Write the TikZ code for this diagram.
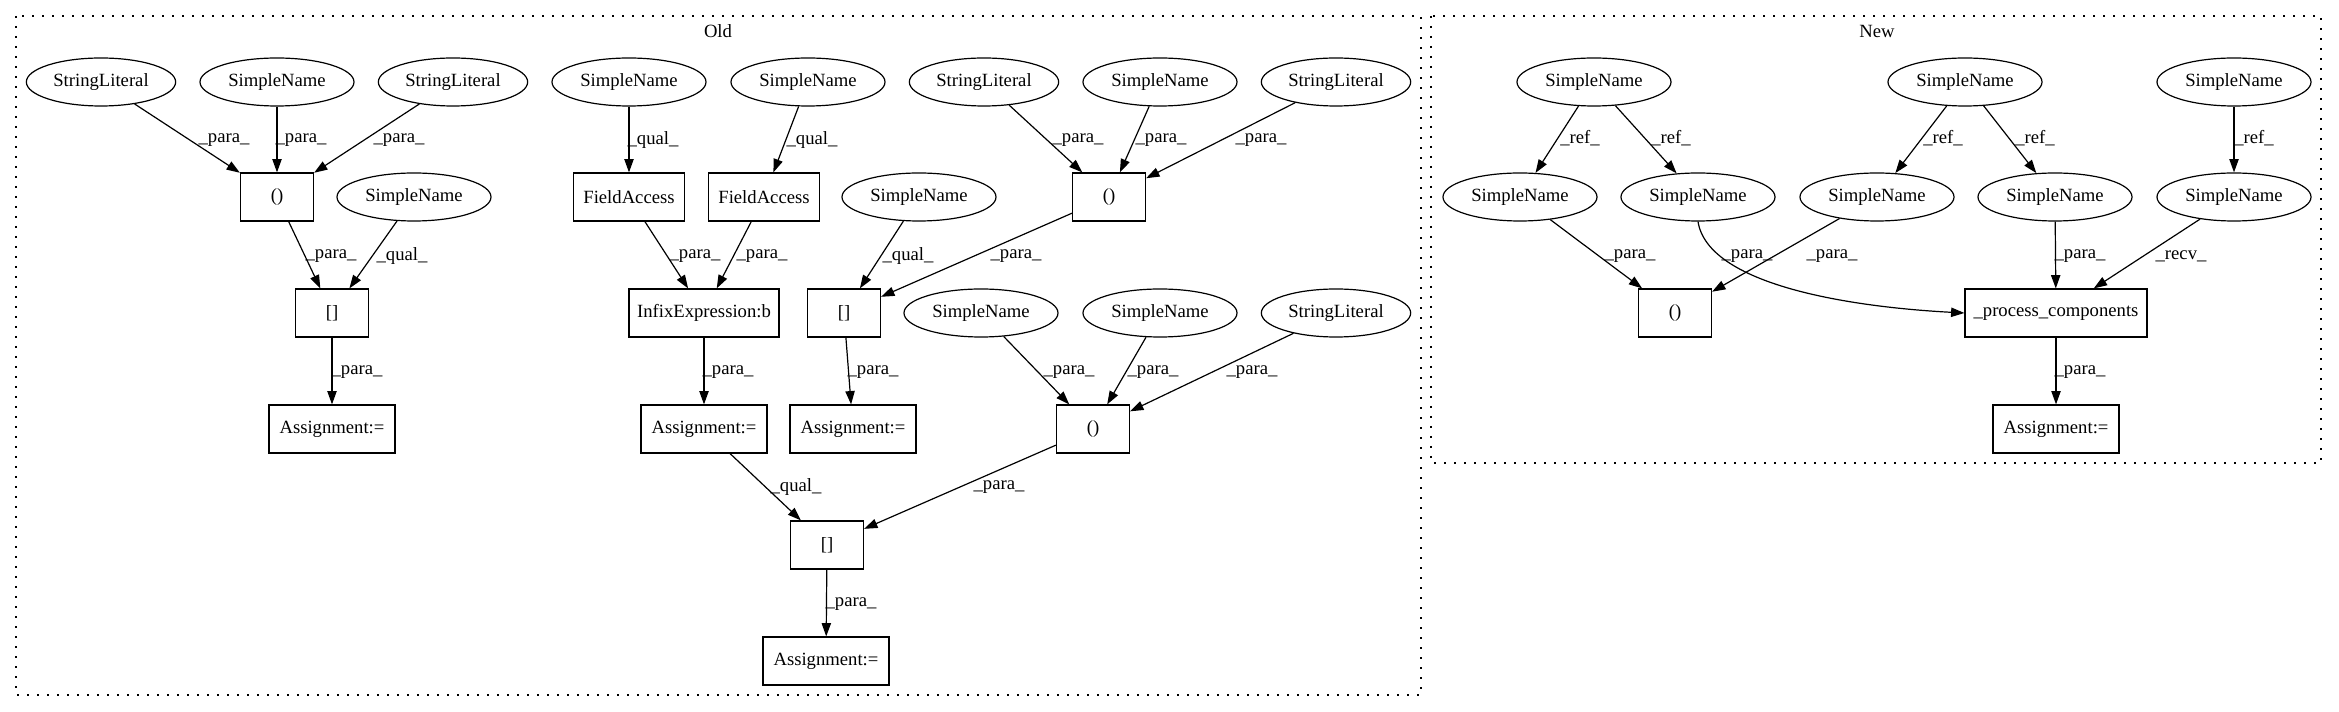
\documentclass[tikz,border=0pt]{standalone}
\usepackage{fontspec}
\setmainfont{Liberation Serif}
\usetikzlibrary{shapes.geometric,arrows.meta}
\tikzset{
  ell/.style={ellipse, draw, line width=0.9pt, inner sep=0pt, minimum height=36pt, minimum width=115.5pt},
  sl/.style={ell, minimum width=112pt},
  bx/.style={rectangle, draw, line width=0.9pt, inner sep=0pt, minimum height=36pt, minimum width=54.75pt},
  fa/.style={bx, minimum width=83.25pt},
  ix/.style={bx, minimum width=112.5pt},
  asg/.style={bx, minimum width=94.5pt},
  pcs/.style={bx, minimum width=136.5pt},
  lbl/.style={inner sep=0pt},
  edg/.style={-{Triangle[length=10pt,width=7pt]}, line width=0.9pt},
  cluster/.style={line width=0.9pt, dash pattern=on 1.5pt off 6pt},
}
\begin{document}
\begin{tikzpicture}[x=0.75pt, y=-0.75pt, font=\fontsize{14pt}{16pt}\selectfont]
\useasboundingbox (0,0) rectangle (2339,712);
% clusters
\draw[cluster] (16,16) rectangle (1421,695);
\draw[cluster] (1431,16) rectangle (2321,463);
\node[lbl] (oldlbl) at (718,31) {Old};
\node[lbl] (newlbl) at (1877,31) {New};

% ---------- Old ----------
\node[sl]  (sl1) at (101,82) {StringLiteral};
\node[ell] (sn1) at (277,82) {SimpleName};
\node[sl]  (sl2) at (453,82) {StringLiteral};
\node[bx]  (p1)  at (277,197) {()};
\node[ell] (sn2) at (414,197) {SimpleName};
\node[bx]  (b1)  at (332,313) {[]};
\node[asg] (a0)  at (332,429) {Assignment:=};

\node[ell] (sna) at (629,82) {SimpleName};
\node[ell] (snb) at (808,82) {SimpleName};
\node[fa]  (fa1) at (629,197) {FieldAccess};
\node[fa]  (fa2) at (764,197) {FieldAccess};
\node[ix]  (ixb) at (704,313) {InfixExpression:b};
\node[asg] (a1)  at (704,429) {Assignment:=};

\node[sl]  (sl3) at (984,82) {StringLiteral};
\node[ell] (snc) at (1160,82) {SimpleName};
\node[sl]  (sl4) at (1336,82) {StringLiteral};
\node[bx]  (p2)  at (1109,197) {()};
\node[ell] (snd) at (919,197) {SimpleName};
\node[bx]  (b2)  at (844,313) {[]};
\node[asg] (a2)  at (853,429) {Assignment:=};

\node[ell] (sne) at (981,313) {SimpleName};
\node[ell] (snf) at (1160,313) {SimpleName};
\node[sl]  (sl5) at (1336,313) {StringLiteral};
\node[bx]  (p3)  at (1093,429) {()};
\node[bx]  (b3)  at (827,545) {[]};
\node[asg] (a3)  at (826,661) {Assignment:=};

\draw[edg] (sl1) -- (p1);
\draw[edg] (sn1) -- (p1);
\draw[edg] (sl2) -- (p1);
\draw[edg] (p1) -- (b1);
\draw[edg] (sn2) -- (b1);
\draw[edg] (b1) -- (a0);
\draw[edg] (sna) -- (fa1);
\draw[edg] (snb) -- (fa2);
\draw[edg] (fa1) -- (ixb);
\draw[edg] (fa2) -- (ixb);
\draw[edg] (ixb) -- (a1);
\draw[edg] (snd) -- (b2);
\draw[edg] (p2) -- (b2);
\draw[edg] (b2) -- (a2);
\draw[edg] (sl3) -- (p2);
\draw[edg] (snc) -- (p2);
\draw[edg] (sl4) -- (p2);
\draw[edg] (sne) -- (p3);
\draw[edg] (snf) -- (p3);
\draw[edg] (sl5) -- (p3);
\draw[edg] (a1) -- (b3);
\draw[edg] (p3) -- (b3);
\draw[edg] (b3) -- (a3);

\node[lbl] (l1)  at (224,140) {\_para\_};
\node[lbl] (l2)  at (301,140) {\_para\_};
\node[lbl] (l3)  at (399,140) {\_para\_};
\node[lbl] (l4)  at (331,256) {\_para\_};
\node[lbl] (l5)  at (402,256) {\_qual\_};
\node[lbl] (l6)  at (357,372) {\_para\_};
\node[lbl] (l7)  at (653,140) {\_qual\_};
\node[lbl] (l8)  at (812,140) {\_qual\_};
\node[lbl] (l9)  at (695,256) {\_para\_};
\node[lbl] (l10) at (762,256) {\_para\_};
\node[lbl] (l11) at (728,372) {\_para\_};
\node[lbl] (l12) at (908,256) {\_qual\_};
\node[lbl] (l13) at (1016,256) {\_para\_};
\node[lbl] (l14) at (873,372) {\_para\_};
\node[lbl] (l15) at (1078,140) {\_para\_};
\node[lbl] (l16) at (1161,140) {\_para\_};
\node[lbl] (l17) at (1261,140) {\_para\_};
\node[lbl] (l18) at (1069,372) {\_para\_};
\node[lbl] (l19) at (1153,372) {\_para\_};
\node[lbl] (l20) at (1252,372) {\_para\_};
\node[lbl] (l21) at (796,487) {\_qual\_};
\node[lbl] (l22) at (999,487) {\_para\_};
\node[lbl] (l23) at (851,604) {\_para\_};

% ---------- New ----------
\node[ell] (n1) at (1594,82) {SimpleName};
\node[ell] (n2) at (1965,82) {SimpleName};
\node[ell] (n3) at (2234,82) {SimpleName};
\node[ell] (na) at (1520,197) {SimpleName};
\node[ell] (nb) at (1698,197) {SimpleName};
\node[ell] (nc) at (1877,197) {SimpleName};
\node[ell] (nd) at (2055,197) {SimpleName};
\node[ell] (ne) at (2234,197) {SimpleName};
\node[bx]  (pn) at (1675,313) {()};
\node[pcs] (pc) at (2056,313) {\_process\_components};
\node[asg] (an) at (2056,429) {Assignment:=};

\draw[edg] (n1) -- (na);
\draw[edg] (n1) -- (nb);
\draw[edg] (n2) -- (nc);
\draw[edg] (n2) -- (nd);
\draw[edg] (n3) -- (ne);
\draw[edg] (na) -- (pn);
\draw[edg] (nb.south) .. controls (1708,285) and (1850,307) .. (pc.west);
\draw[edg] (nc) -- (pn);
\draw[edg] (nd) -- (pc);
\draw[edg] (ne) -- (pc);
\draw[edg] (pc) -- (an);

\node[lbl] (m1)  at (1580,138) {\_ref\_};
\node[lbl] (m2)  at (1671,138) {\_ref\_};
\node[lbl] (m3)  at (1943,138) {\_ref\_};
\node[lbl] (m4)  at (2035,138) {\_ref\_};
\node[lbl] (m5)  at (2254,138) {\_ref\_};
\node[lbl] (m6)  at (1630,256) {\_para\_};
\node[lbl] (m7)  at (1747,256) {\_para\_};
\node[lbl] (m8)  at (1832,256) {\_para\_};
\node[lbl] (m9)  at (2080,256) {\_para\_};
\node[lbl] (m10) at (2181,256) {\_recv\_};
\node[lbl] (m11) at (2080,372) {\_para\_};
\end{tikzpicture}
\end{document}
